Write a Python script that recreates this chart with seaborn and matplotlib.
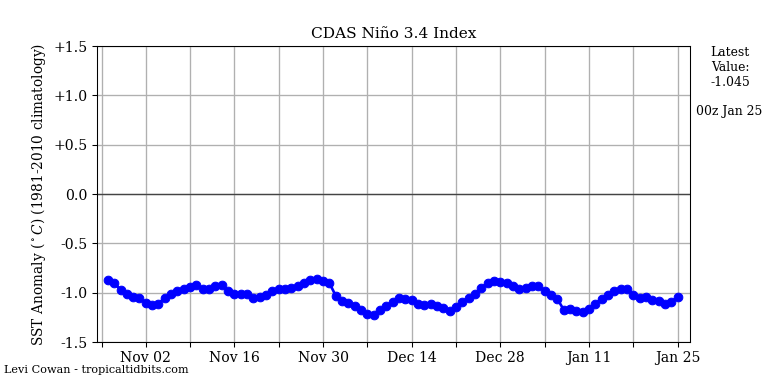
import pandas as pd
import numpy as np
import seaborn as sns
import matplotlib.pyplot as plt
import matplotlib.dates as mdates

# daily CDAS Nino 3.4 values, 27 Oct -> 25 Jan
start_date = '2024-10-27'
end_date = '2025-01-25'
nino34 = [
    -0.87, -0.90, -0.97, -1.01, -1.04, -1.05, -1.10, -1.12, -1.11, -1.05,
    -1.01, -0.98, -0.96, -0.94, -0.92, -0.96, -0.96, -0.93, -0.92, -0.98,
    -1.01, -1.01, -1.01, -1.05, -1.04, -1.02, -0.98, -0.96, -0.96, -0.95,
    -0.93, -0.90, -0.87, -0.86, -0.88, -0.90, -1.03, -1.08, -1.10, -1.13,
    -1.17, -1.21, -1.22, -1.17, -1.13, -1.09, -1.05, -1.06, -1.07, -1.11,
    -1.12, -1.11, -1.13, -1.15, -1.18, -1.14, -1.09, -1.05, -1.01, -0.95,
    -0.90, -0.88, -0.89, -0.90, -0.93, -0.96, -0.95, -0.93, -0.93, -0.98,
    -1.02, -1.06, -1.17, -1.16, -1.18, -1.19, -1.16, -1.11, -1.06, -1.02,
    -0.98, -0.96, -0.96, -1.02, -1.05, -1.04, -1.07, -1.08, -1.11, -1.09,
    -1.045,
]
yticks = [-1.5, -1.0, -0.5, 0.0, 0.5, 1.0, 1.5]
ytick_labels = ['-1.5', '-1.0', '-0.5', '0.0', '+0.5', '+1.0', '+1.5']

df = pd.DataFrame({'date': pd.date_range(start_date, end_date, freq='D'),
                   'anom': nino34})

plt.rcParams['font.family'] = ['DejaVu Serif']
plt.rcParams['mathtext.fontset'] = 'dejavuserif'

fig = plt.figure(figsize=(8, 4), dpi=96)
ax = fig.add_axes([0.126, 0.109, 0.772, 0.771])

sns.lineplot(data=df, x='date', y='anom', ax=ax, color='blue',
             linewidth=2, marker='o', markersize=6.5,
             markeredgecolor='blue', zorder=3)

ax.axhline(0, color='#444444', linewidth=1, zorder=2)

ax.set_ylim(-1.5, 1.5)
ax.set_yticks(yticks)
ax.set_yticklabels(ytick_labels, fontsize=10.5)

ax.set_xlim(pd.Timestamp('2024-10-25 06:00'), pd.Timestamp('2025-01-26 22:00'))
week_ticks = pd.date_range('2024-10-26', '2025-01-25', freq='7D')
ax.set_xticks(week_ticks)
ax.set_xticklabels([d.strftime('%b %d') if i % 2 == 1 else ''
                    for i, d in enumerate(week_ticks)], fontsize=10.5)

ax.grid(True, color='#b0b0b0', linewidth=1, zorder=0)
ax.set_axisbelow(True)
ax.set_xlabel('')
ax.set_ylabel(r'SST Anomaly ($^\circ C$) (1981-2010 climatology)', fontsize=10.3)
ax.set_title('CDAS Niño 3.4 Index', fontsize=11.5)

fig.text(0.951, 0.88, 'Latest\nValue:\n-1.045', ha='center', va='top', fontsize=9.3)
fig.text(0.949, 0.71, '00z Jan 25', ha='center', va='center', fontsize=9.3)
fig.text(0.005, 0.037, 'Levi Cowan - tropicaltidbits.com', ha='left', va='center', fontsize=8.4)

fig.savefig('out.png', dpi=96)
